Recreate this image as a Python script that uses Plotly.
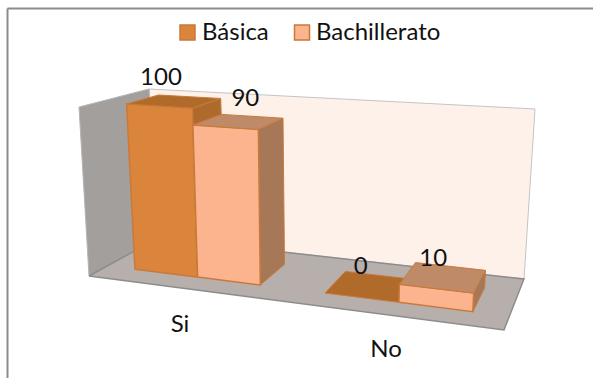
import plotly.graph_objects as go

categories = ['Si', 'No']
series_names = ['Básica', 'Bachillerato']
basica = [100, 0]
bachillerato = [90, 10]
axis_max = 100

# box corners as seen on the page: floor and top, front/back, left/right
FLOOR = {'fl': (89, 276), 'fr': (504, 330), 'bl': (158, 238), 'br': (524, 279)}
TOP = {'fl': (79, 107), 'fr': (514, 136), 'bl': (149, 89), 'br': (535, 109)}

# bar footprint inside the floor, 0-1 along width and depth
GROUP_LEFT = [0.068, 0.541]
BAR_WIDTH = [0.156, 0.184]
DEPTH = (0.27, 0.75)

FONT = 'Lato, Carlito, Calibri, sans-serif'
FONT_SIZE = 24
EDGE = '#C97A3A'
COLORS = {
    'Básica': {'front': '#DB843C', 'top': '#B06A2A', 'side': '#AE6A2C'},
    'Bachillerato': {'front': '#FBB48D', 'top': '#BF8A68', 'side': '#A67858'},
}


def project(u, d, h):
    """Map width, depth and height fractions to page position."""
    pts = []
    for plane in (FLOOR, TOP):
        pts.append([
            (1 - d) * ((1 - u) * plane['fl'][i] + u * plane['fr'][i])
            + d * ((1 - u) * plane['bl'][i] + u * plane['br'][i])
            for i in range(2)
        ])
    return tuple((1 - h) * pts[0][i] + h * pts[1][i] for i in range(2))


def face(fig, points, color, line_color=None, line_width=1):
    xs = [p[0] for p in points] + [points[0][0]]
    ys = [p[1] for p in points] + [points[0][1]]
    fig.add_trace(go.Scatter(
        x=xs, y=ys, mode='lines', fill='toself', fillcolor=color,
        line=dict(color=line_color or color, width=line_width),
        hoverinfo='skip', showlegend=False
    ))


def add_bar(fig, u0, u1, value, colors):
    d0, d1 = DEPTH
    h = value / axis_max
    if value > 0:
        face(fig, [project(u1, d0, 0), project(u1, d1, 0), project(u1, d1, h), project(u1, d0, h)],
             colors['side'], EDGE)
        face(fig, [project(u0, d0, 0), project(u1, d0, 0), project(u1, d0, h), project(u0, d0, h)],
             colors['front'], EDGE, 1.5)
    face(fig, [project(u0, d0, h), project(u1, d0, h), project(u1, d1, h), project(u0, d1, h)],
         colors['top'], EDGE)


fig = go.Figure()

# walls and floor
face(fig, [project(0, 1, 0), project(1, 1, 0), project(1, 1, 1), project(0, 1, 1)],
     '#FEF1EA', '#C4C4C4')
face(fig, [project(0, 0, 0), project(0, 1, 0), project(0, 1, 1), project(0, 0, 1)],
     '#A39F9C', '#B5B5B5')
face(fig, [project(0, 0, 0), project(1, 0, 0), project(1, 1, 0), project(0, 1, 0)],
     '#B6AFAC', '#8C8C8C', 1.5)

for i in range(len(categories)):
    left = GROUP_LEFT[i]
    width = BAR_WIDTH[i]
    add_bar(fig, left, left + width, basica[i], COLORS['Básica'])
    add_bar(fig, left + width, left + 2 * width, bachillerato[i], COLORS['Bachillerato'])

# data labels sit above the middle of each bar top
label_offsets = [(-13, -23), (7, -22), (-10, -19), (-10, -18)]
values = [basica[0], bachillerato[0], basica[1], bachillerato[1]]
label_x, label_y = [], []
for k, value in enumerate(values):
    i = k // 2
    u = GROUP_LEFT[i] + BAR_WIDTH[i] * (k % 2 + 0.5)
    px, py = project(u, 0.5, value / axis_max)
    label_x.append(px + label_offsets[k][0])
    label_y.append(py + label_offsets[k][1])
fig.add_trace(go.Scatter(
    x=label_x, y=label_y, mode='text', text=[str(v) for v in values],
    textfont=dict(family=FONT, size=FONT_SIZE, color='#111111'),
    hoverinfo='skip', showlegend=False
))

# category labels
fig.add_trace(go.Scatter(
    x=[180, 386], y=[326, 351], mode='text', text=categories,
    textfont=dict(family=FONT, size=FONT_SIZE, color='#111111'),
    hoverinfo='skip', showlegend=False
))

# legend, drawn by hand to keep the tight Excel swatch spacing
fig.add_trace(go.Scatter(
    x=[187.5, 302], y=[32.5, 32.5], mode='markers',
    marker=dict(symbol='square', size=15,
                color=[COLORS[n]['front'] for n in series_names],
                line=dict(color=EDGE, width=1.5)),
    hoverinfo='skip', showlegend=False
))
fig.add_trace(go.Scatter(
    x=[202, 316], y=[33.5, 33.5], mode='text',
    text=series_names, textposition='middle right',
    textfont=dict(family=FONT, size=FONT_SIZE, color='#111111'),
    hoverinfo='skip', showlegend=False
))

fig.update_layout(
    width=593, height=378,
    margin=dict(l=0, r=0, t=0, b=0),
    paper_bgcolor='white', plot_bgcolor='white',
    showlegend=False,
    xaxis=dict(range=[0, 593], visible=False, fixedrange=True),
    yaxis=dict(range=[378, 0], visible=False, fixedrange=True),
    shapes=[
        dict(type='line', x0=7.5, x1=7.5, y0=8.5, y1=378, line=dict(color='#8C8C8C', width=2)),
        dict(type='line', x0=7.5, x1=593, y0=8.5, y1=8.5, line=dict(color='#8C8C8C', width=2)),
    ]
)

fig.write_html("out.html", config={'displayModeBar': False},
               post_script="document.body.style.margin='0';")
